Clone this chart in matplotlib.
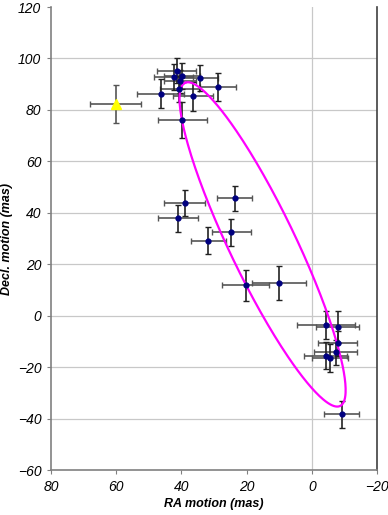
import matplotlib.pyplot as plt
import numpy as np

# proper motion measurements (mas)
ra = [41.5, 42.4, 39.8, 40.4, 34.3, 28.8, 40.6, 46.4, 36.5, 39.7,
      39.0, 41.1, 23.7, 24.7, 31.7, 20.3, 10.0,
      -4.4, -7.9, -7.9, -7.4, -4.3, -5.6, -9.2]
dec = [95.2, 92.7, 93.3, 91.2, 92.3, 89.0, 88.0, 86.3, 85.3, 76.2,
       43.7, 37.8, 45.6, 32.4, 29.1, 11.8, 12.8,
       -3.5, -4.3, -10.8, -14.3, -15.6, -16.4, -38.3]
ra_err = [5.9, 6.0, 5.5, 5.0, 5.5, 5.6, 6.0, 7.2, 6.1, 7.6,
          6.3, 6.2, 5.5, 5.9, 5.4, 7.3, 8.3,
          9.0, 6.5, 5.9, 6.6, 6.6, 5.5, 5.4]
dec_err = [4.8, 5.0, 5.0, 4.5, 5.0, 5.5, 5.0, 5.6, 5.6, 7.0,
           5.0, 5.3, 5.0, 5.3, 5.2, 6.0, 6.7,
           5.4, 6.2, 5.0, 5.0, 5.3, 5.4, 5.2]

# odd one out (yellow triangle)
ra_y, dec_y = [60.1], [82.3]
ra_y_err, dec_y_err = [7.8], [7.5]

# ellipse: centre and two conjugate semi-axis vectors (mas)
ell_center = (15.1, 27.7)
ell_axis1 = (23.8, 62.8)
ell_axis2 = (-9.1, 5.6)

plt.rcParams['font.family'] = ['Liberation Sans', 'DejaVu Sans']

fig = plt.figure(figsize=(3.88, 5.15), dpi=100)
ax = fig.add_axes([51/388, 1 - 470/515, 326/388, 463/515])

# grid
for y in range(-40, 120, 20):
    ax.axhline(y, color='#c8c8c8', lw=0.9, zorder=0)
ax.axvline(0, color='#c8c8c8', lw=0.9, zorder=0)

# error bars
ax.errorbar(ra, dec, xerr=ra_err, fmt='none', ecolor='#555555', elinewidth=1.2,
            capsize=2.2, capthick=1.0, zorder=2)
ax.errorbar(ra, dec, yerr=dec_err, fmt='none', ecolor='#222222', elinewidth=1.2,
            capsize=2.2, capthick=1.0, zorder=2)
ax.plot(ra, dec, 'o', color='#000080', ms=3.5, zorder=4)

ax.errorbar(ra_y, dec_y, xerr=ra_y_err, yerr=dec_y_err, fmt='none', ecolor='#555555',
            elinewidth=1.2, capsize=2.2, capthick=1.0, zorder=2)
ax.plot(ra_y, dec_y, '^', color='#ffff00', ms=7, zorder=4)

# ellipse
t = np.linspace(0, 2*np.pi, 300)
ex = ell_center[0] + ell_axis1[0]*np.cos(t) + ell_axis2[0]*np.sin(t)
ey = ell_center[1] + ell_axis1[1]*np.cos(t) + ell_axis2[1]*np.sin(t)
ax.plot(ex, ey, color='#ff00ff', lw=1.6, zorder=3)

ax.set_xlim(80, -20)
ax.set_ylim(-60, 120)
ax.set_xticks(range(80, -21, -20))
ax.set_yticks(range(-60, 121, 20))
ax.tick_params(direction='out', length=3, color='#808080', labelsize=10, pad=4)
for lab in ax.get_xticklabels() + ax.get_yticklabels():
    lab.set_fontstyle('italic')

ax.spines['top'].set_visible(False)
for s in ['left', 'bottom', 'right']:
    ax.spines[s].set_color('#808080')
    ax.spines[s].set_linewidth(1.2)
ax.spines['right'].set_color('#404040')

ax.set_xlabel('RA motion (mas)', fontsize=9, fontweight='bold', fontstyle='italic', labelpad=3)
ax.set_ylabel('Decl. motion (mas)', fontsize=9, fontweight='bold', fontstyle='italic', labelpad=3)

fig.savefig('out.png', dpi=100)
